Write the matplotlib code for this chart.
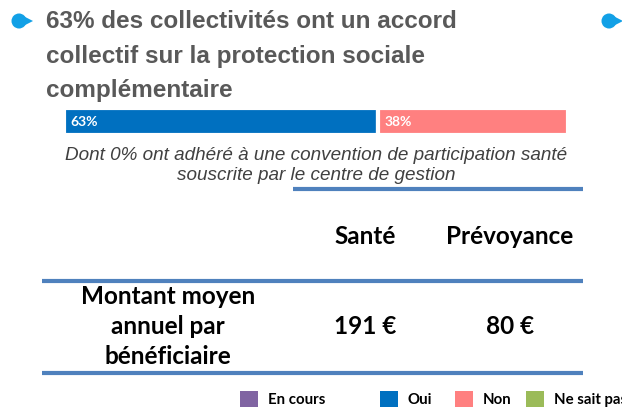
import matplotlib
matplotlib.use("Agg")
import matplotlib.pyplot as plt
from matplotlib.patches import Circle, Polygon, Rectangle

# données
title_lines = ["63% des collectivités ont un accord",
               "collectif sur la protection sociale",
               "complémentaire"]
accord_labels = ["Oui", "Non"]
accord_values = [63, 38]
accord_colors = ["#0070C0", "#FF8080"]
note_lines = ["Dont 0% ont adhéré à une convention de participation santé",
              "souscrite par le centre de gestion"]
table_cols = ["Santé", "Prévoyance"]
table_row = ["Montant moyen", "annuel par", "bénéficiaire"]
table_values = [191, 80]
legend_labels = ["En cours", "Oui", "Non", "Ne sait pas"]
legend_colors = ["#8064A2", "#0070C0", "#FF8080", "#9BBB59"]

W, H = 622, 407
fig = plt.figure(figsize=(W / 100, H / 100), dpi=100)
ax = fig.add_axes([0, 0, 1, 1])
ax.set_xlim(0, W)
ax.set_ylim(H, 0)
ax.axis("off")

bullet = "#12A0E6"
for bx in [19, 609]:
    ax.add_patch(Circle((bx, 21), 7.5, color=bullet, lw=0))
    ax.add_patch(Polygon([(bx, 13.8), (bx + 14, 21), (bx, 28.2)],
                         closed=True, color=bullet, lw=0))

for i, line in enumerate(title_lines):
    ax.text(46, 22 + 34.5 * i, line, fontsize=17.5, fontweight="bold",
            family="Liberation Sans", color="#595959", va="center", ha="left")

# barre empilée oui / non
bax = fig.add_axes([64 / W, 1 - 135 / H, (568 - 64) / W, 27 / H])
left = 0
for lab, val, col in zip(accord_labels, accord_values, accord_colors):
    bax.barh(0, val, left=left, height=1, color=col, edgecolor="white", lw=3)
    bax.text(left + 1.2, 0, f"{val}%", color="white", fontsize=10,
             fontweight="bold", family="Lato", va="center", ha="left")
    left += val
bax.set_xlim(0, sum(accord_values))
bax.set_ylim(-0.5, 0.5)
bax.axis("off")

for i, line in enumerate(note_lines):
    ax.text(316, 155 + 20 * i, line, fontsize=13.6, style="italic",
            family="Liberation Sans", color="#404040", va="center", ha="center")

rule = "#4F81BD"
ax.plot([293, 583], [189, 189], color=rule, lw=3, solid_capstyle="butt")
ax.plot([42, 583], [281, 281], color=rule, lw=3, solid_capstyle="butt")
ax.plot([42, 583], [372.5, 372.5], color=rule, lw=3, solid_capstyle="butt")

col_x = [365, 510]
for cx, name in zip(col_x, table_cols):
    ax.text(cx, 236, name, fontsize=17.5, fontweight="bold", family="Lato",
            color="black", va="center", ha="center")
for i, line in enumerate(table_row):
    ax.text(168, 297 + 30 * i, line, fontsize=17.5, fontweight="bold",
            family="Lato", color="black", va="center", ha="center")
for cx, val in zip(col_x, table_values):
    ax.text(cx, 327, f"{val} €", fontsize=17.5, fontweight="bold",
            family="Lato", color="black", va="center", ha="center")

# légende
leg_x = [240, 380, 455, 526]
for lx, lab, col in zip(leg_x, legend_labels, legend_colors):
    ax.add_patch(Rectangle((lx, 391), 18, 17, color=col, lw=0))
    ax.text(lx + 28, 400, lab, fontsize=10.8, fontweight="bold", family="Lato",
            color="black", va="center", ha="left")

fig.savefig("out.png", dpi=100)
